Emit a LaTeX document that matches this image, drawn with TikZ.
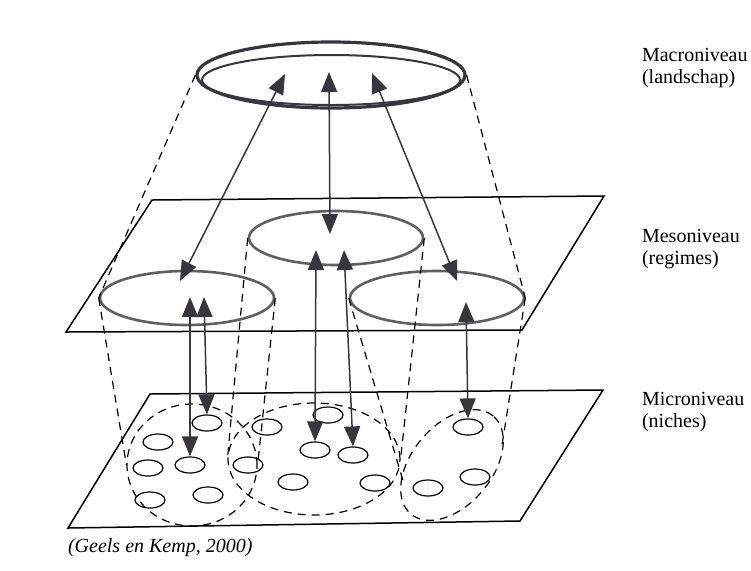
\documentclass[tikz,border=0pt]{standalone}
\usepackage{fontspec}
\setmainfont{Liberation Serif}
\usetikzlibrary{shapes.geometric,arrows.meta}
\definecolor{ink}{RGB}{58,52,62}
\tikzstyle{plane} = [draw=black, line width=0.75pt]
\tikzstyle{landscape} = [draw=ink, ellipse, inner sep=0pt, line width=1.6pt]
\tikzstyle{regime} = [draw=ink!80, ellipse, inner sep=0pt, minimum width=87pt, minimum height=27pt, line width=1.3pt]
\tikzstyle{niche} = [draw=black, ellipse, inner sep=0pt, minimum width=15pt, minimum height=8pt, line width=0.6pt]
\tikzstyle{cone} = [draw=black, line width=0.6pt, dash pattern=on 4pt off 3pt]
\tikzstyle{cluster} = [cone, ellipse, inner sep=0pt]
\tikzstyle{link} = [draw=ink, line width=0.75pt, {Triangle[length=10pt,width=8pt]}-{Triangle[length=10pt,width=8pt]}]
\tikzstyle{level} = [anchor=west, align=left, font=\fontsize{10}{11}\selectfont]

\begin{document}
\begin{tikzpicture}[x=0.5pt,y=-0.5pt]
        \useasboundingbox (0,0) rectangle (751,570);
        % the two planes
        \draw[plane] (152,200) -- (604,196) -- (522,330) -- (66,332) -- cycle;
        \draw[plane] (150,394) -- (603,390) -- (520,521) -- (68,528) -- cycle;
        % macro, meso and micro level
        \node[landscape, minimum width=134pt, minimum height=33pt](macro) at (331,75){};
        \node[landscape, line width=1pt, minimum width=129pt, minimum height=25pt](macroin) at (331,80){};
        \node[regime](m1) at (187,298){};
        \node[regime](m2) at (336,238){};
        \node[regime](m3) at (437,298){};
        \node[cluster, minimum width=65pt, minimum height=61pt](c1) at (192,465){};
        \node[cluster, minimum width=86pt, minimum height=56pt](c2) at (314,459){};
        \node[cluster, minimum width=64pt, minimum height=40pt, rotate=50](c3) at (452,465){};
        \node[niche](1) at (207,423){};
        \node[niche](2) at (158,442){};
        \node[niche](3) at (190,465){};
        \node[niche](4) at (148,468){};
        \node[niche](5) at (208,495){};
        \node[niche](6) at (150,500){};
        \node[niche](7) at (267,427){};
        \node[niche](8) at (328,415){};
        \node[niche](9) at (248,465){};
        \node[niche](10) at (315,450){};
        \node[niche](11) at (353,455){};
        \node[niche](12) at (293,482){};
        \node[niche](13) at (375,483){};
        \node[niche](14) at (468,427){};
        \node[niche](15) at (475,477){};
        \node[niche](16) at (428,488){};
        \coordinate (c3l) at (404,484);
        \coordinate (c3r) at (502,445);
        % dashed cones
        \draw[cone] (macro.west) -- (m1.west);
        \draw[cone] (macro.east) -- (m3.east);
        \draw[cone] (m1.west) -- (c1.west);
        \draw[cone] (m1.east) -- (c1.east);
        \draw[cone] (m2.west) -- (c2.west);
        \draw[cone] (m2.east) -- (c2.east);
        \draw[cone] (m3.west) -- (c3l);
        \draw[cone] (m3.east) -- (c3r);
        % interactions
        \coordinate (t1) at (285,74);
        \coordinate (t2) at (329,72);
        \coordinate (t3) at (372,73);
        \coordinate (b1) at (180,281);
        \coordinate (b2) at (330,234);
        \coordinate (b3) at (457,281);
        \coordinate (u1) at (190,297);
        \coordinate (u2) at (204,297);
        \coordinate (u3) at (316,250);
        \coordinate (u4) at (344,250);
        \coordinate (u5) at (466,302);
        \draw[link](t1)--(b1);
        \draw[link](t2)--(b2);
        \draw[link](t3)--(b3);
        \draw[link](u1)--(3.north);
        \draw[link](u2)--(1.north);
        \draw[link](u3)--(10.north);
        \draw[link](u4)--(11.north);
        \draw[link](u5)--(14.north);
        % labels
        \node[level](macrolabel) at (635,68){Macroniveau\\(landschap)};
        \node[level](mesolabel) at (635,249){Mesoniveau\\(regimes)};
        \node[level](microlabel) at (635,412){Microniveau\\(niches)};
        \node[anchor=west, font=\itshape](source) at (61,548){(Geels en Kemp, 2000)};
\end{tikzpicture}
\end{document}
